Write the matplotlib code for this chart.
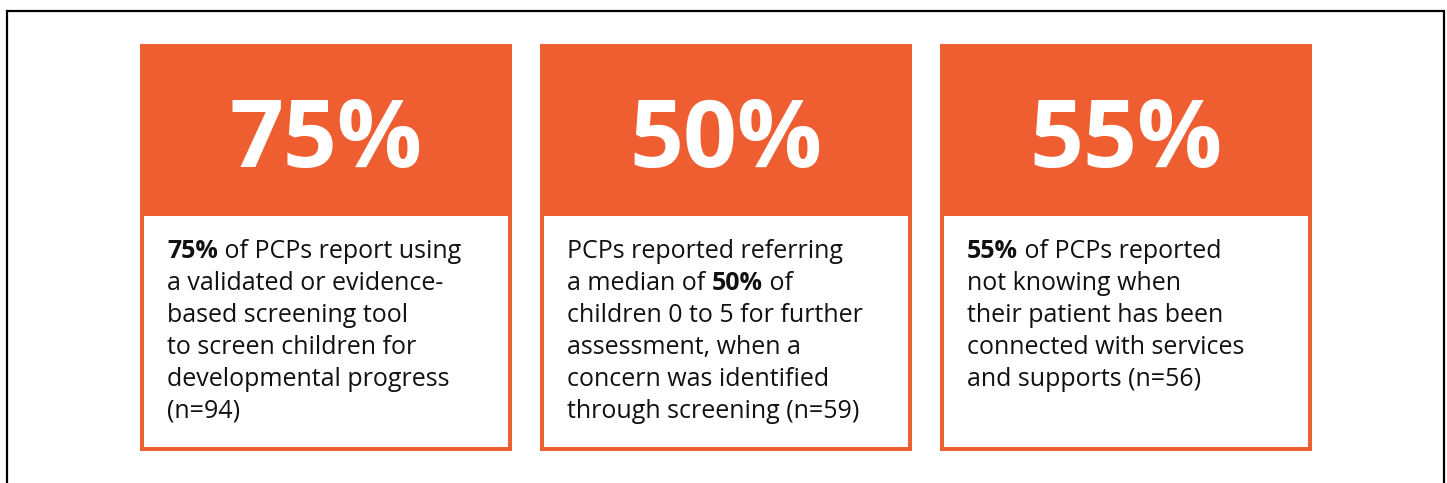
import matplotlib.pyplot as plt
from matplotlib import font_manager
from matplotlib.patches import Rectangle

# figures shown in the three cards
values = [75, 50, 55]

# card text, one list per line, each piece is (text, bold)
card_lines = [
    [[("75%", True), (" of PCPs report using", False)],
     [("a validated or evidence-", False)],
     [("based screening tool", False)],
     [("to screen children for", False)],
     [("developmental progress", False)],
     [("(n=94)", False)]],
    [[("PCPs reported referring", False)],
     [("a median of ", False), ("50%", True), (" of", False)],
     [("children 0 to 5 for further", False)],
     [("assessment, when a", False)],
     [("concern was identified", False)],
     [("through screening (n=59)", False)]],
    [[("55%", True), (" of PCPs reported", False)],
     [("not knowing when", False)],
     [("their patient has been", False)],
     [("connected with services", False)],
     [("and supports (n=56)", False)]],
]

orange = "#EE5E30"
W, H = 1447, 483

# pick a Segoe-like family that actually ships a bold face
font = "DejaVu Sans"
for fam in ["Open Sans", "Noto Sans", "Lato", "Liberation Sans"]:
    ws = [f.weight for f in font_manager.fontManager.ttflist if f.name == fam]
    if any((w if isinstance(w, int) else 700 if w == "bold" else 400) >= 700 for w in ws):
        font = fam
        break

fig = plt.figure(figsize=(W / 100, H / 100), dpi=100)
ax = fig.add_axes([0, 0, 1, 1])
ax.set_xlim(0, W)
ax.set_ylim(H, 0)
ax.axis("off")

# outer frame
ax.plot([7, 7, 1444, 1444], [H + 5, 10.5, 10.5, H + 5], color="black", lw=1.6,
        solid_joinstyle="miter")

fig.canvas.draw()
renderer = fig.canvas.get_renderer()
inv = ax.transData.inverted()

box_w, top, head_h, bottom = 372, 46, 170, 451
lw = 4
for i, (val, lines) in enumerate(zip(values, card_lines)):
    x0 = 140 + i * 400
    # outlined body
    ax.add_patch(Rectangle((x0 + lw / 2, top), box_w - lw, bottom - top - lw / 2,
                           fill=False, edgecolor=orange, lw=lw * 0.72,
                           joinstyle="miter"))
    # filled header
    ax.add_patch(Rectangle((x0, top), box_w, head_h, facecolor=orange,
                           edgecolor="none"))
    ax.text(x0 + box_w / 2, 167, f"{val}%", ha="center", va="baseline",
            color="white", fontsize=68, fontweight="bold", family=font)

    for j, pieces in enumerate(lines):
        x = x0 + 27
        y = 258 + 32 * j
        for txt, bold in pieces:
            t = ax.text(x, y, txt, ha="left", va="baseline", fontsize=18,
                        color="#111111", family=font,
                        fontweight="bold" if bold else "normal")
            bb = t.get_window_extent(renderer)
            x = inv.transform((bb.x1, bb.y0))[0]

fig.savefig("out.png", dpi=100)
